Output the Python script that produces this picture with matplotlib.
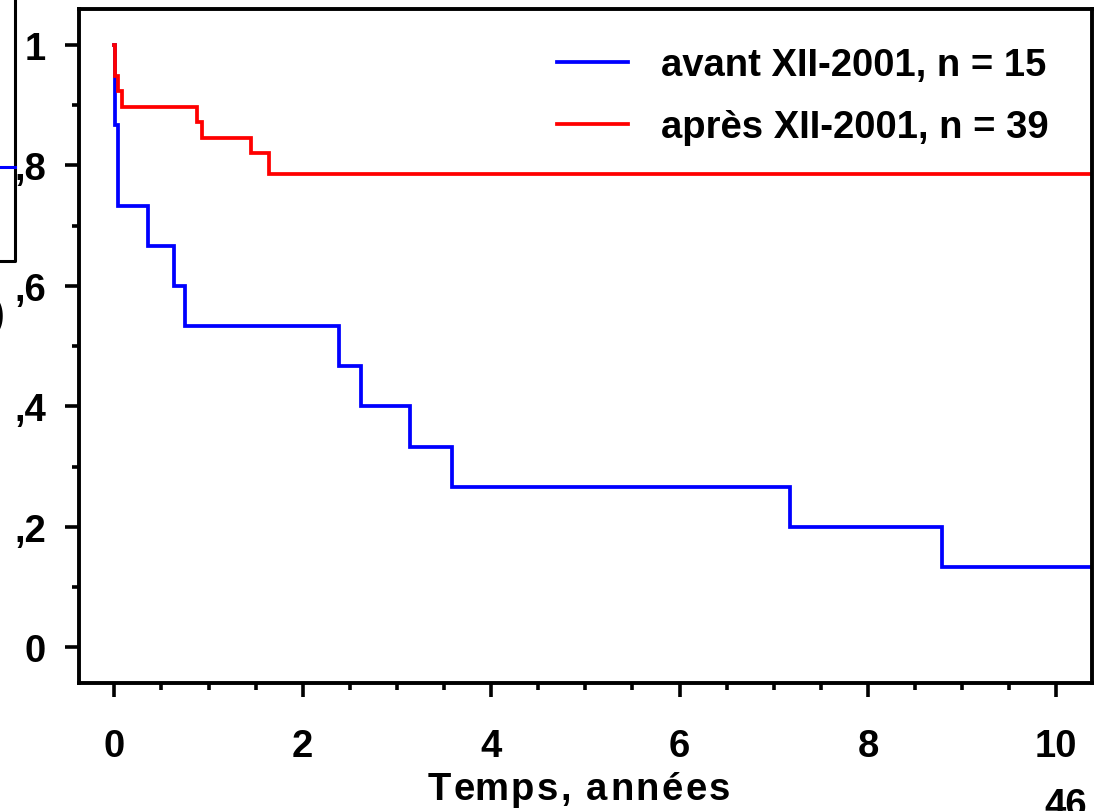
import matplotlib
matplotlib.use("Agg")
import matplotlib.pyplot as plt
from matplotlib.lines import Line2D
from matplotlib.ticker import MultipleLocator

plt.rcParams['font.family'] = ['Liberation Sans', 'DejaVu Sans']
plt.rcParams['font.weight'] = 'bold'

# Kaplan-Meier estimates (time in years, survival fraction)
avant_t = [0.0, 0.003, 0.01, 0.04, 0.36, 0.63, 0.745, 2.39, 2.62, 3.14, 3.59, 7.17, 8.79]
avant_s = [1.0, 0.933, 0.867, 0.733, 0.667, 0.600, 0.533, 0.467, 0.400, 0.333, 0.267, 0.200, 0.133]
apres_t = [0.0, 0.005, 0.04, 0.08, 0.88, 0.93, 1.45, 1.64]
apres_s = [1.0, 0.949, 0.923, 0.897, 0.872, 0.846, 0.820, 0.785]
t_end = 10.376

labels = ["avant XII-2001, n = 15", "après XII-2001, n = 39"]
y_ticks = [0, 0.2, 0.4, 0.6, 0.8, 1.0]
y_ticklabels = ["0", ",2", ",4", ",6", ",8", "1"]
x_ticks = [0, 2, 4, 6, 8, 10]
x_title = "Temps, années"

FS = 27.5
W, H = 1106, 812
fig = plt.figure(figsize=(W / 100, H / 100), dpi=100)
ax = fig.add_axes([79.3 / W, 1 - 684.3 / H, (1091.7 - 79.3) / W, (684.3 - 10) / H])

ax.step(avant_t + [t_end], avant_s + [avant_s[-1]], where='post',
        color='#0000ff', lw=2.7, label=labels[0], solid_joinstyle='miter')
ax.step(apres_t + [t_end], apres_s + [apres_s[-1]], where='post',
        color='#ff0000', lw=2.7, label=labels[1], solid_joinstyle='miter')

ax.set_xlim(-0.372, t_end)
ax.set_ylim(-0.0596, 1.0596)

ax.set_xticks(x_ticks)
ax.set_xticklabels([str(v) for v in x_ticks])
ax.xaxis.set_minor_locator(MultipleLocator(0.5))
ax.set_yticks(y_ticks)
ax.set_yticklabels(y_ticklabels)
ax.yaxis.set_minor_locator(MultipleLocator(0.1))

for s in ax.spines.values():
    s.set_linewidth(2.8)
ax.tick_params(which='major', direction='out', length=10, width=2.6,
               labelsize=FS, color='black')
ax.tick_params(axis='x', which='major', pad=22)
ax.tick_params(axis='y', which='major', pad=14)
ax.tick_params(which='minor', direction='out', length=5, width=2.6)

leg = ax.legend(loc='upper left', bbox_to_anchor=(557 / W, 1 - 48 / H),
                bbox_transform=fig.transFigure, frameon=False,
                fontsize=FS, handlelength=1.85, handletextpad=0.86,
                labelspacing=0.68, borderpad=0, borderaxespad=0)
for line in leg.get_lines():
    line.set_linewidth(2.7)

# letter-spaced axis title, drawn one glyph at a time
renderer = fig.canvas.get_renderer()


def text_width(s):
    t = fig.text(0, 0, s + "x", fontsize=FS, fontweight='bold')
    r = fig.text(0, 0, "x", fontsize=FS, fontweight='bold')
    w = t.get_window_extent(renderer).width - r.get_window_extent(renderer).width
    t.remove()
    r.remove()
    return w


tracking = 2.4
x0 = 428
for i, ch in enumerate(x_title):
    if ch == " ":
        continue
    xpos = x0 + text_width(x_title[:i]) + i * tracking
    fig.text(xpos / W, 1 - 800 / H, ch, fontsize=FS, fontweight='bold',
             ha='left', va='baseline')

# fragment of a neighbouring panel on the left edge
fig.add_artist(Line2D([15 / W, 15 / W, 0], [1, 1 - 262 / H, 1 - 262 / H],
                      color='black', lw=2.2))
fig.add_artist(Line2D([0, 15 / W], [1 - 168 / H, 1 - 168 / H],
                      color='#0000ff', lw=2.2))
fig.text(-8 / W, 1 - 316 / H, ")", fontsize=FS, fontweight='bold',
         ha='left', va='center')

# page number
fig.text(1087 / W, 1 - 788 / H, "46", fontsize=FS, fontweight='bold',
         ha='right', va='top')

fig.savefig("out.png", dpi=100)
